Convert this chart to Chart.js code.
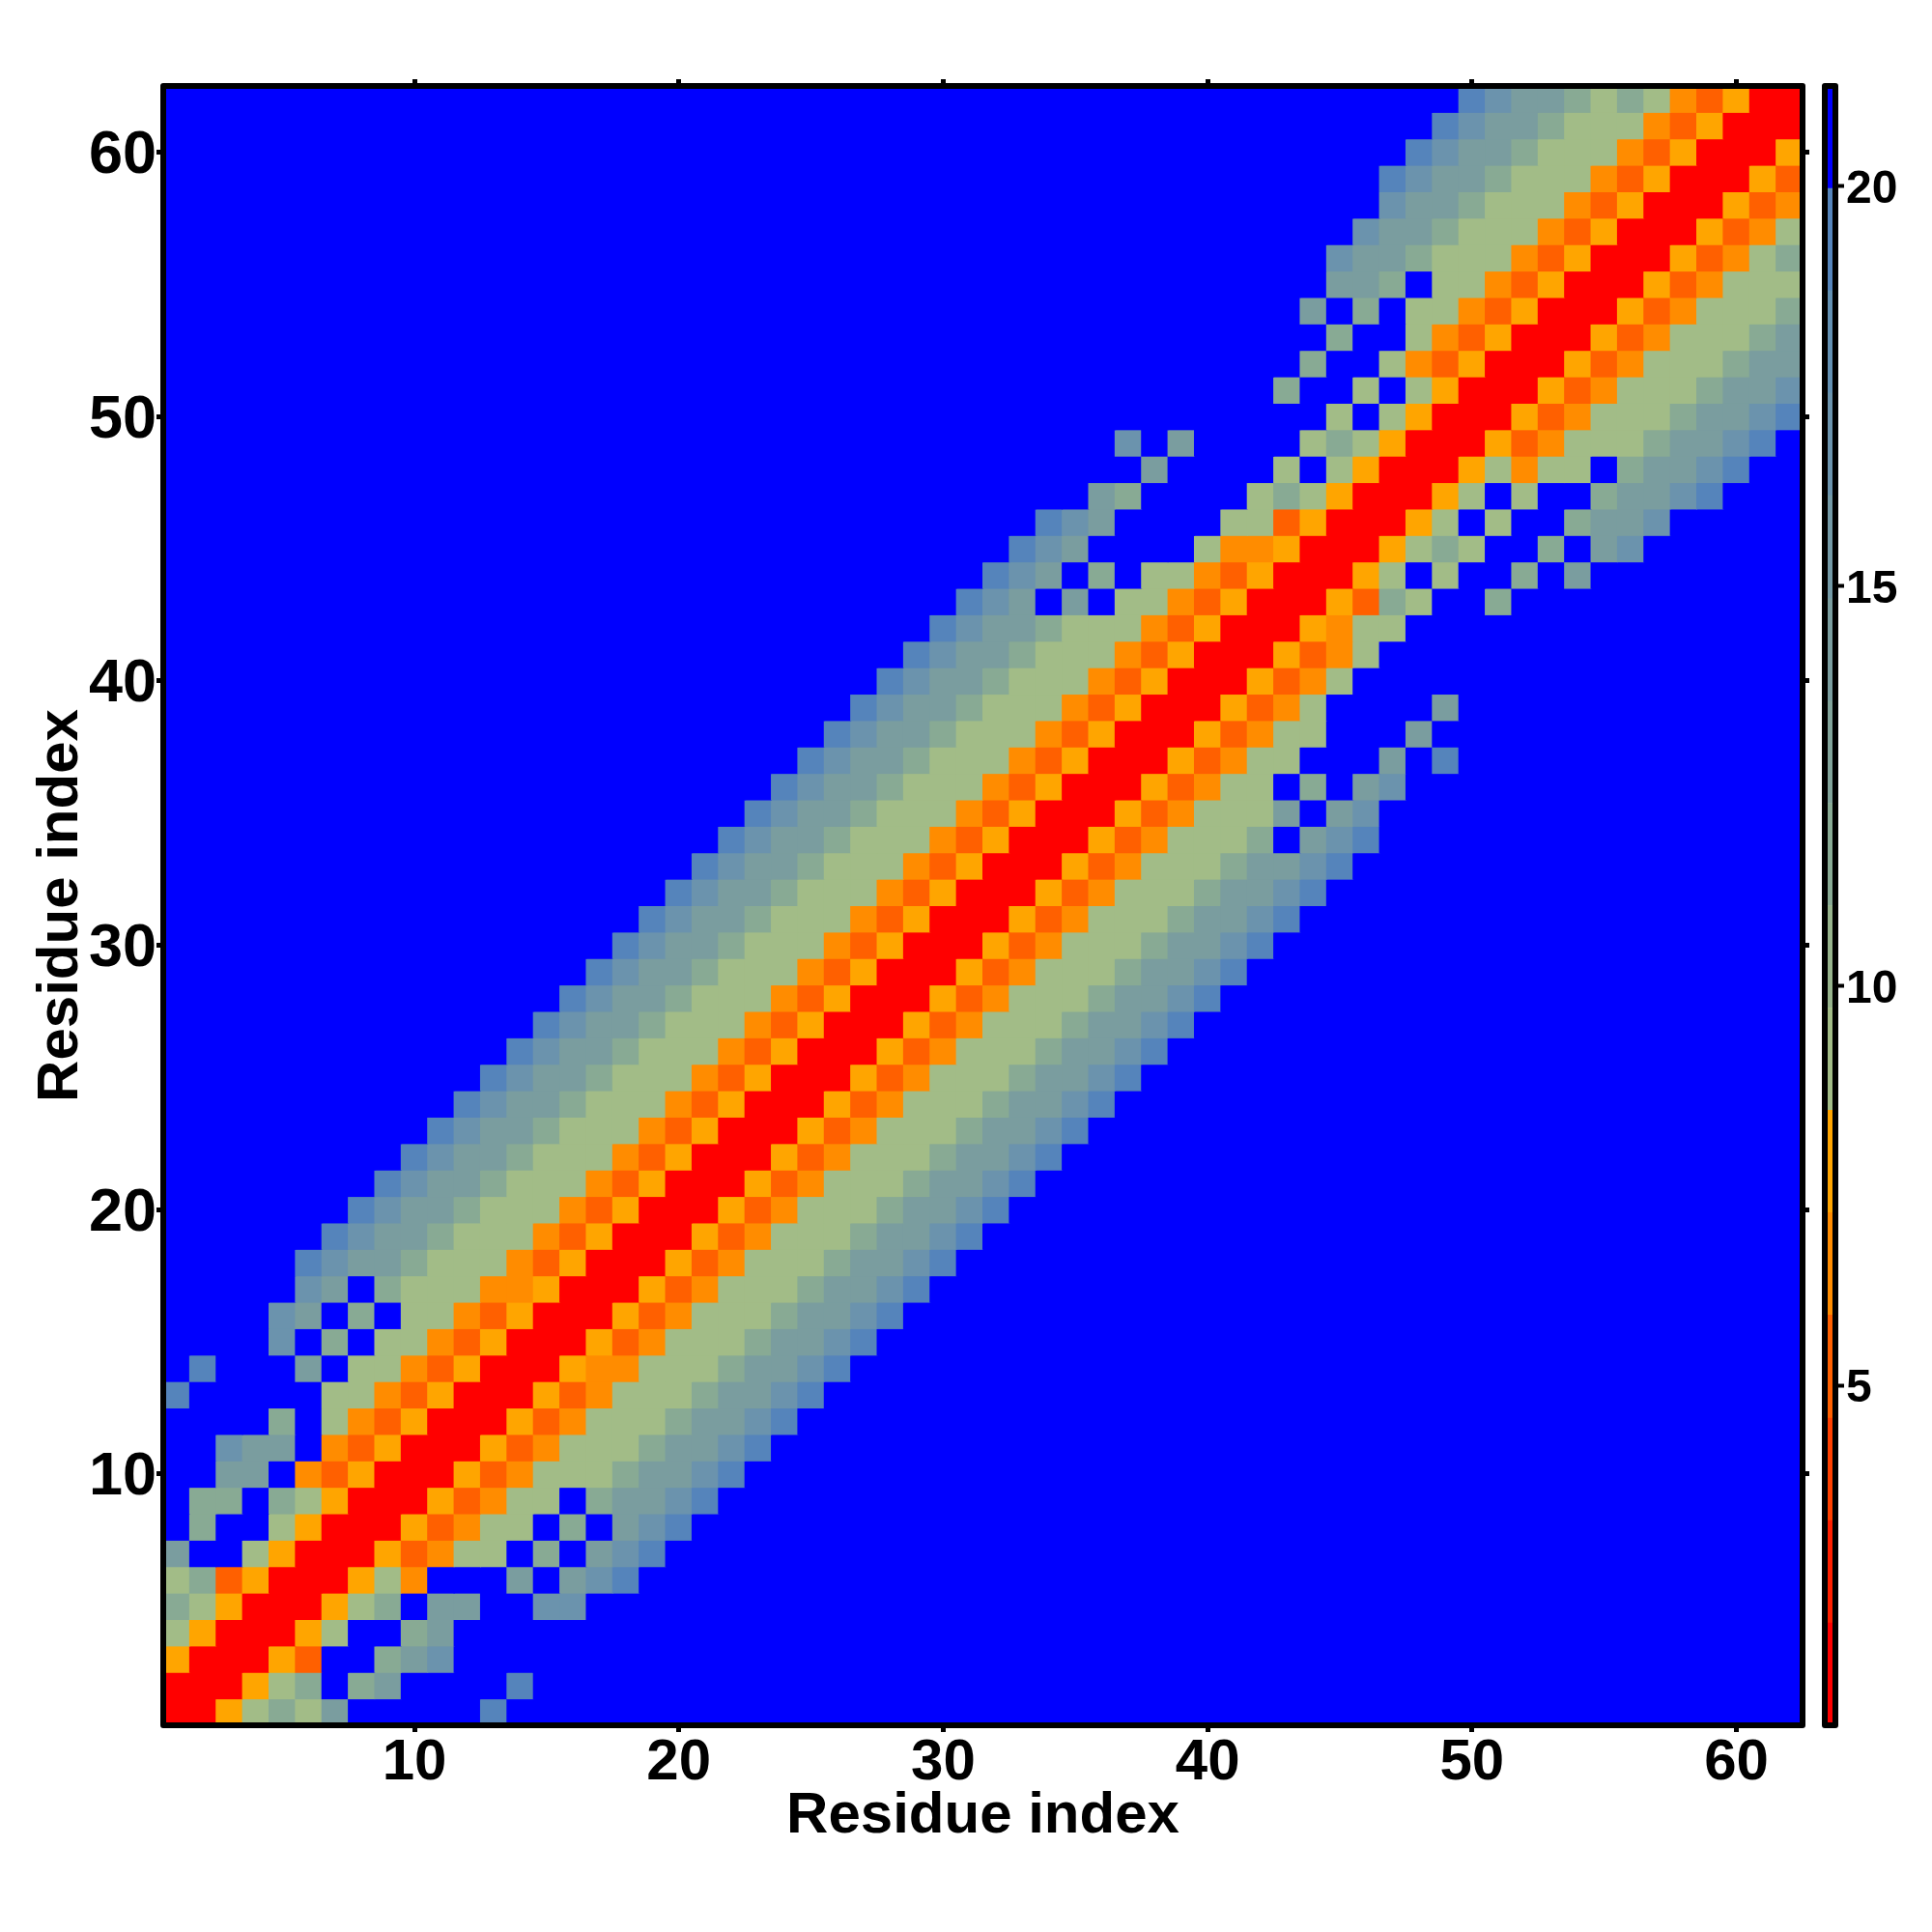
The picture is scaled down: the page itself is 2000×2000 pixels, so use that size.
<!DOCTYPE html>
<html>
<head>
<meta charset="utf-8">
<style>
  body { margin: 0; background: #fff; }
  #wrap { position: relative; width: 2000px; height: 2000px; }
  canvas { position: absolute; top: 0; }
  #myChart { left: 0; }
  #myBar { left: 1870px; }
</style>
<script src="https://cdn.jsdelivr.net/npm/chart.js@4/dist/chart.umd.js"></script>
</head>
<body>
<div id="wrap">
  <canvas id="myChart" width="2000" height="2000"></canvas>
  <canvas id="myBar" width="130" height="2000"></canvas>
</div>
<script>
// residue labels on the axes
const axisTicks = [10, 20, 30, 40, 50, 60];
const barTicks = [5, 10, 15, 20];
const axisTitle = "Residue index";

// colour bar: 16 steps, edges go bottom to top
const bandEdges = [0.75, 2.03, 3.31, 4.59, 5.88, 7.16, 8.44, 9.72, 11, 12.28, 13.56, 14.84, 16.13, 17.41, 18.69, 19.97, 21.25];
const bandColors = ["#ff0000", "#ff2000", "#ff4000", "#ff6000", "#ff8c00", "#ffa500",
  "#a2bc87", "#96b38c", "#88aa94", "#81a39a", "#7a9d9f", "#7399a6", "#6b93ad", "#6390b2", "#5584bb", "#0000ff"];

// distance for each letter used in the rows below
const cellCodes = { R: 1.4, O: 5.2, D: 6.5, A: 7.8, S: 9.1, G: 11.6, T: 14.2, L: 16.8, B: 19.3, ".": 20.6 };

// first non blue column of each row (row 1 first)
const rowStart = [1, 1, 1, 1, 1, 1, 1, 1, 1, 1, 1, 1, 1, 1, 1, 1, 1,
  6, 7, 8, 9, 10, 11, 12, 13, 14, 15, 16, 17, 18, 19, 20, 21,
  22, 23, 24, 25, 26, 27, 28, 29, 30, 31, 32, 33, 34, 36, 38, 37,
  45, 43, 44, 45, 44, 45, 45, 46, 47, 47, 48, 49, 50];

// cells from rowStart on, everything else in the row is blue
const rows = [
  "RRASGST.....B",
  "RRRASG.GT....B",
  "ARRRAO..GTL",
  "SARRRAS..GT",
  "GSARRRASG.TT..LL",
  "SGOARRRASD...T.TLB",
  "T..SARRRAODSS.G.TLB",
  ".G..SARRRAODSS.G.TLB",
  ".GG.GSARRRAODSS.GTTLB",
  "..TT.DOARRRAODSSSGTTLB",
  "..LTT.DOARRRAODSSSGTTLB",
  "....G.SDOARRRAODSSSGTTLB",
  "B.....SSDOARRRAODSSSGTTLB",
  ".B...T.SSDOARRRADDSSSGTTLB",
  "....L.G.SSDOARRRAODSSSGTTLB",
  "....LT.G.SSDOARRRAODSSSGTTLB",
  ".....LT.GSSSDDARRRAODSSSGTTLB",
  "BLTTGSSSDOARRRAODSSSGTTLB",
  "BLTTGSSSDOARRRAODSSSGTTLB",
  "BLTTGSSSDOARRRAODSSSGTTLB",
  "BLTTGSSSDOARRRAODSSSGTTLB",
  "BLTTGSSSDOARRRAODSSSGTTLB",
  "BLTTGSSSDOARRRAODSSSGTTLB",
  "BLTTGSSSDOARRRAODSSSGTTLB",
  "BLTTGSSSDOARRRAODSSSGTTLB",
  "BLTTGSSSDOARRRAODSSSGTTLB",
  "BLTTGSSSDOARRRAODSSSGTTLB",
  "BLTTGSSSDOARRRAODSSSGTTLB",
  "BLTTGSSSDOARRRAODSSSGTTLB",
  "BLTTGSSSDOARRRAODSSSGTTLB",
  "BLTTGSSSDOARRRAODSSSGTTLB",
  "BLTTGSSSDOARRRAODSSSGTTLB",
  "BLTTGSSSDOARRRAODSSSGTTLB",
  "BLTTGSSSDOARRRAODSSSG.TLB",
  "BLTTGSSSDOARRRAODSSST.TL",
  "BLTTGSSSDOARRRAODSS.G.TL",
  "BLTTGSSSDOARRRAODSS...T.B",
  "BLTTGSSSDOARRRAODSS...T",
  "BLTTGSSSDOARRRAODS....T",
  "BLTTGSSSDOARRRAODS",
  "BLTTGSSSDOARRRAODS",
  "BLTTGSSSDOARRRADSS",
  "BLT.T.SSDOARRRAOGS..G",
  "BLT.G.SSDOARRRAS.S..G.T",
  "BLT....SDDARRRASGS..G.TL",
  "BLT....SSOARRRAS.S..GTTL",
  "TG....SGSARRRAS.S..GTTLB",
  "T....S.SARRRASDSS.GTTLB",
  "L.T....SGSARRRAODSSSGTTLB",
  "S.SARRRAODSSSGTTLB",
  "G..S.SARRRAODSSSGTTL",
  "G..SDOARRRAODSSSGTT",
  "G..SDOARRRAODSSSGT",
  "T.G.SSDOARRRAODSSSG",
  "TTG.SSDOARRRAODSSS",
  "LTTGSSSDOARRRAODSG",
  "LTTGSSSDOARRRAODS",
  "LTTGSSSDOARRRAOD",
  "BLTTGSSSDOARRRAO",
  "BLTTGSSSDOARRRA",
  "BLTTGSSSDOARRR",
  "BLTTGSGSDOARR"
];

const fontName = "'Liberation Sans', Arial, sans-serif";
const nCols = 62;

function colorFor(v) {
  for (let i = 0; i < bandColors.length; i++) {
    if (v < bandEdges[i + 1]) return bandColors[i];
  }
  return bandColors[bandColors.length - 1];
}

let cells = [];
rows.forEach((row, r) => {
  for (let c = 1; c <= nCols; c++) {
    const code = row[c - rowStart[r]] || ".";
    cells.push({ x: c, y: r + 1, v: cellCodes[code] });
  }
});

// black frame with round corners, on top of the cells
const framePlugin = {
  id: "frame",
  afterDraw(chart, args, opts) {
    const a = chart.chartArea;
    const ctx = chart.ctx;
    ctx.save();
    ctx.strokeStyle = "#000";
    ctx.lineWidth = opts.width;
    ctx.lineJoin = "round";
    ctx.strokeRect(a.left, a.top, a.right - a.left, a.bottom - a.top);
    ctx.restore();
  },
};

function setTicks(values) {
  return function (scale) {
    scale.ticks = values.map((v) => ({ value: v }));
  };
}

function residueAxis(position, size, extra) {
  return Object.assign({
    type: "linear",
    position: position,
    min: 0.5,
    max: 62.5,
    afterBuildTicks: setTicks(axisTicks),
    afterFit(scale) {
      if (scale.isHorizontal()) scale.height = size;
      else scale.width = size;
    },
    border: { display: false },
    grid: {
      drawOnChartArea: false,
      drawTicks: true,
      tickLength: 7,
      tickWidth: 5,
      tickColor: "#000",
      z: 1,
    },
    ticks: { display: false },
  }, extra);
}

var ctx = document.getElementById("myChart").getContext("2d");
var myChart = new Chart(ctx, {
  type: "scatter",
  data: {
    datasets: [{
      data: cells,
      pointStyle: "rect",
      borderWidth: 0,
      backgroundColor: (c) => colorFor(c.raw.v),
      // half a pixel extra so neighbours overlap and leave no seams
      pointRadius: (c) => {
        const s = c.chart.scales.x;
        const w = s.getPixelForValue(2) - s.getPixelForValue(1);
        return (w / 2 + 0.5) * Math.SQRT2;
      },
    }],
  },
  options: {
    responsive: false,
    animation: false,
    events: [],
    layout: { padding: 0 },
    plugins: { legend: { display: false }, tooltip: { enabled: false }, frame: { width: 6 } },
    scales: {
      x: residueAxis("bottom", 214, {
        ticks: { display: true, color: "#000", padding: -4, maxRotation: 0, autoSkip: false,
          font: { family: fontName, size: 60, weight: "bold" } },
        title: { display: true, text: axisTitle, color: "#000", padding: { top: 0, bottom: 84 },
          font: { family: fontName, size: 60, weight: "bold" } },
      }),
      y: residueAxis("left", 169, {
        ticks: { display: true, color: "#000", padding: 0, autoSkip: false, labelOffset: 4,
          font: { family: fontName, size: 63, weight: "bold" } },
        title: { display: true, text: axisTitle, color: "#000", padding: { top: 27, bottom: 0 },
          font: { family: fontName, size: 60, weight: "bold" } },
      }),
      x2: residueAxis("top", 89),
      y2: residueAxis("right", 134),
    },
  },
  plugins: [framePlugin],
});

var barCtx = document.getElementById("myBar").getContext("2d");
var myBar = new Chart(barCtx, {
  type: "bar",
  data: {
    labels: [""],
    datasets: bandColors.map((color, i) => ({
      data: [[bandEdges[i], bandEdges[i + 1]]],
      backgroundColor: color,
      borderWidth: 0,
      grouped: false,
      barPercentage: 1,
      categoryPercentage: 1,
    })),
  },
  options: {
    responsive: false,
    animation: false,
    events: [],
    layout: { padding: { left: 19, top: 89, bottom: 214 } },
    plugins: { legend: { display: false }, tooltip: { enabled: false }, frame: { width: 6 } },
    scales: {
      x: { display: false },
      y: {
        type: "linear",
        position: "right",
        min: bandEdges[0],
        max: bandEdges[bandEdges.length - 1],
        afterBuildTicks: setTicks(barTicks),
        afterFit(scale) { scale.width = 100; },
        border: { display: false },
        grid: { drawOnChartArea: false, drawTicks: true, tickLength: 9, tickWidth: 4, tickColor: "#000", z: 1 },
        ticks: { color: "#000", padding: 2, autoSkip: false, labelOffset: 4,
          font: { family: fontName, size: 48, weight: "bold" } },
      },
    },
  },
  plugins: [framePlugin],
});
</script>
</body>
</html>
